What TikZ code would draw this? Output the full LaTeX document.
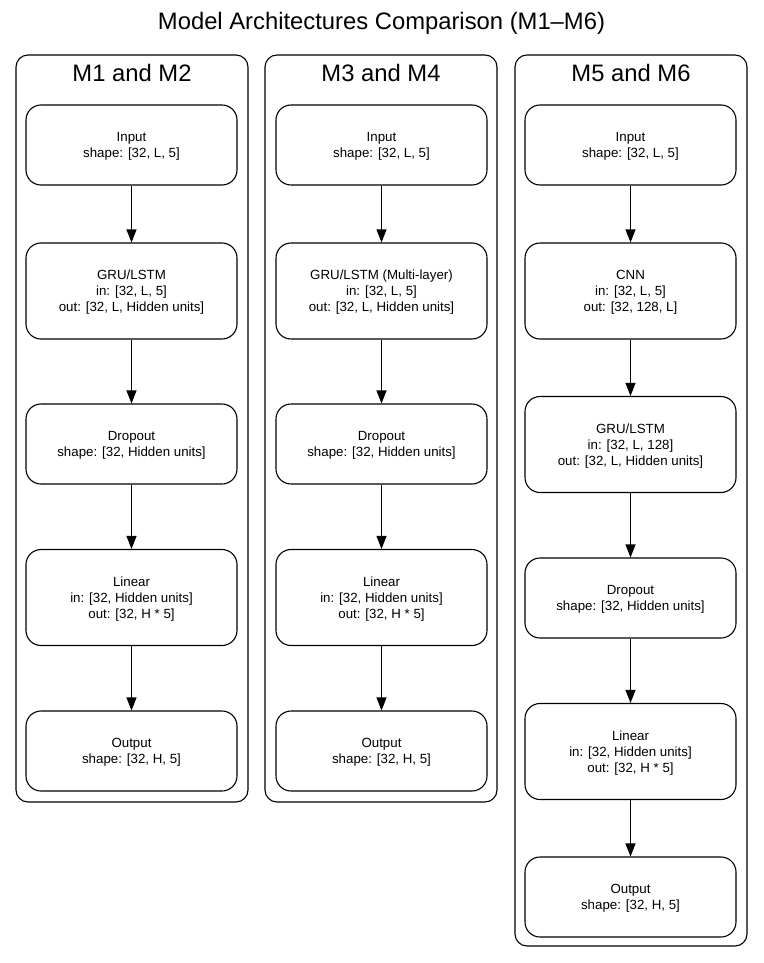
\documentclass[tikz,border=0pt]{standalone}
\usepackage{fontspec}
\setmainfont{Liberation Sans}
\usetikzlibrary{arrows.meta}
\begin{document}
\begin{tikzpicture}[x=1pt,y=-1pt,
  cluster/.style={draw, line width=1.1pt, rounded corners=12pt, minimum width=232pt, inner sep=0pt},
  ctitle/.style={font=\fontsize{23.8}{28}\selectfont, inner sep=0pt, anchor=base},
  layer/.style={draw, line width=1.1pt, rounded corners=15pt, minimum width=211pt, inner sep=0pt,
    align=center, text depth=0pt, font=\fontsize{13.3}{16}\selectfont},
  flow/.style={line width=1.1pt, -{Triangle[length=13pt,width=10pt]}}
]
\useasboundingbox (0,0) rectangle (763,963);
\node[ctitle] (title) at (381.5,30) {Model Architectures Comparison (M1–M6)};

% clusters
\node[cluster, minimum height=747pt] (c1) at (132,428.5) {};
\node[cluster, minimum height=747pt] (c2) at (381,428.5) {};
\node[cluster, minimum height=891pt] (c3) at (631,500.5) {};
\node[ctitle] (t1) at (132,82) {M1 and M2};
\node[ctitle] (t2) at (381,82) {M3 and M4};
\node[ctitle] (t3) at (631,82) {M5 and M6};

% column 1
\node[layer, minimum height=80pt] (a1) at (131.5,145) {Input\\shape: [32, L, 5]};
\node[layer, minimum height=96pt] (a2) at (131.5,291) {GRU/LSTM\\in: [32, L, 5]\\out: [32, L, Hidden units]};
\node[layer, minimum height=80pt] (a3) at (131.5,444) {Dropout\\shape: [32, Hidden units]};
\node[layer, minimum height=96pt] (a4) at (131.5,597.5) {Linear\\in: [32, Hidden units]\\out: [32, H * 5]};
\node[layer, minimum height=80pt] (a5) at (131.5,751) {Output\\shape: [32, H, 5]};
\draw[flow] (a1) -- (a2);
\draw[flow] (a2) -- (a3);
\draw[flow] (a3) -- (a4);
\draw[flow] (a4) -- (a5);

% column 2
\node[layer, minimum height=80pt] (b1) at (381.5,145) {Input\\shape: [32, L, 5]};
\node[layer, minimum height=96pt] (b2) at (381.5,291) {GRU/LSTM (Multi-layer)\\in: [32, L, 5]\\out: [32, L, Hidden units]};
\node[layer, minimum height=80pt] (b3) at (381.5,444) {Dropout\\shape: [32, Hidden units]};
\node[layer, minimum height=96pt] (b4) at (381.5,597.5) {Linear\\in: [32, Hidden units]\\out: [32, H * 5]};
\node[layer, minimum height=80pt] (b5) at (381.5,751) {Output\\shape: [32, H, 5]};
\draw[flow] (b1) -- (b2);
\draw[flow] (b2) -- (b3);
\draw[flow] (b3) -- (b4);
\draw[flow] (b4) -- (b5);

% column 3
\node[layer, minimum height=80pt] (d1) at (630.5,145) {Input\\shape: [32, L, 5]};
\node[layer, minimum height=96pt] (d2) at (630.5,291) {CNN\\in: [32, L, 5]\\out: [32, 128, L]};
\node[layer, minimum height=96pt] (d3) at (630.5,444.5) {GRU/LSTM\\in: [32, L, 128]\\out: [32, L, Hidden units]};
\node[layer, minimum height=80pt] (d4) at (630.5,598) {Dropout\\shape: [32, Hidden units]};
\node[layer, minimum height=96pt] (d5) at (630.5,751.5) {Linear\\in: [32, Hidden units]\\out: [32, H * 5]};
\node[layer, minimum height=80pt] (d6) at (630.5,897) {Output\\shape: [32, H, 5]};
\draw[flow] (d1) -- (d2);
\draw[flow] (d2) -- (d3);
\draw[flow] (d3) -- (d4);
\draw[flow] (d4) -- (d5);
\draw[flow] (d5) -- (d6);
\end{tikzpicture}
\end{document}
